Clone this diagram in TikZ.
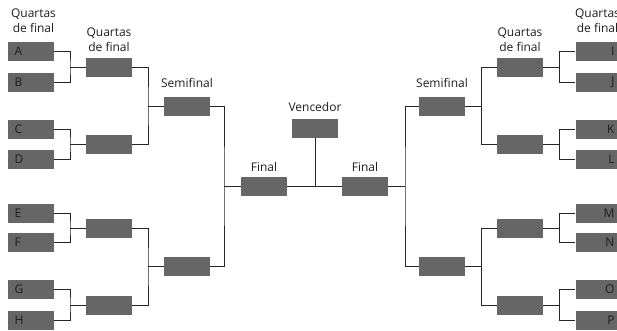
\documentclass[tikz,border=0pt]{standalone}
\usepackage{fontspec}
\setmainfont{Open Sans}
\usetikzlibrary{positioning}
\definecolor{caixa}{HTML}{666666}
\definecolor{traco}{HTML}{262626}
\definecolor{letra}{HTML}{1E1E1E}

\begin{document}
\begin{tikzpicture}[
    x=1pt,
    y=-1pt,
    jogo/.style={
        rectangle,
        fill=caixa,
        minimum width=46pt,
        minimum height=19pt,
        inner sep=0pt
    },
    timeesq/.style={
        jogo,
        inner xsep=7pt,
        text width=32pt,
        align=left,
        text=letra,
        font=\fontsize{12}{14}\selectfont
    },
    timedir/.style={
        timeesq,
        align=right
    },
    linha/.style={
        draw=traco,
        line width=0.9pt
    },
    rotulo/.style={
        inner sep=0pt,
        align=center,
        text=letra,
        font=\fontsize{12}{15}\selectfont
    }
]
\useasboundingbox (0,0) rectangle (617,330);

\node[timeesq] (a) at (30.5,51.5) {A};
\node[timeesq] (b) at (30.5,82.5) {B};
\node[timeesq] (c) at (30.5,129.5) {C};
\node[timeesq] (d) at (30.5,159.5) {D};
\node[timeesq] (e) at (30.5,213.5) {E};
\node[timeesq] (f) at (30.5,242.5) {F};
\node[timeesq] (g) at (30.5,289.5) {G};
\node[timeesq] (h) at (30.5,320.5) {H};

\node[timedir] (i) at (598.5,51.5) {I};
\node[timedir] (j) at (598.5,82.5) {J};
\node[timedir] (k) at (598.5,129.5) {K};
\node[timedir] (l) at (598.5,159.5) {L};
\node[timedir] (m) at (598.5,213.5) {M};
\node[timedir] (n) at (598.5,242.5) {N};
\node[timedir] (o) at (598.5,289.5) {O};
\node[timedir] (p) at (598.5,320.5) {P};

\node[jogo] (qe1) at (109,67) {};
\node[jogo] (qe2) at (109,144.5) {};
\node[jogo] (qe3) at (109,228) {};
\node[jogo] (qe4) at (109,305) {};
\node[jogo] (qd1) at (520,67) {};
\node[jogo] (qd2) at (520,144.5) {};
\node[jogo] (qd3) at (520,228) {};
\node[jogo] (qd4) at (520,305) {};

\node[jogo] (se1) at (187,106) {};
\node[jogo] (se2) at (187,266.5) {};
\node[jogo] (sd1) at (442,106) {};
\node[jogo] (sd2) at (442,266.5) {};

\node[jogo] (fe) at (264,186) {};
\node[jogo] (fd) at (365,186) {};
\node[jogo] (venc) at (315,128.5) {};

\coordinate (je1) at (70,67);
\coordinate (je2) at (70,144.5);
\coordinate (je3) at (70,228);
\coordinate (je4) at (70,305);
\coordinate (jd1) at (559,67);
\coordinate (jd2) at (559,144.5);
\coordinate (jd3) at (559,228);
\coordinate (jd4) at (559,305);
\coordinate (ke1) at (148,106);
\coordinate (ke2) at (148,266.5);
\coordinate (kd1) at (481,106);
\coordinate (kd2) at (481,266.5);
\coordinate (me) at (224,186);
\coordinate (md) at (405,186);
\coordinate (mv) at (315,186);

\draw[linha] (a.east) -| (je1) |- (b.east);
\draw[linha] (c.east) -| (je2) |- (d.east);
\draw[linha] (e.east) -| (je3) |- (f.east);
\draw[linha] (g.east) -| (je4) |- (h.east);
\draw[linha] (je1) -- (qe1);
\draw[linha] (je2) -- (qe2);
\draw[linha] (je3) -- (qe3);
\draw[linha] (je4) -- (qe4);

\draw[linha] (i.west) -| (jd1) |- (j.west);
\draw[linha] (k.west) -| (jd2) |- (l.west);
\draw[linha] (m.west) -| (jd3) |- (n.west);
\draw[linha] (o.west) -| (jd4) |- (p.west);
\draw[linha] (jd1) -- (qd1);
\draw[linha] (jd2) -- (qd2);
\draw[linha] (jd3) -- (qd3);
\draw[linha] (jd4) -- (qd4);

\draw[linha] (qe1.east) -| (ke1) |- (qe2.east);
\draw[linha] (qe3.east) -| (ke2) |- (qe4.east);
\draw[linha] (ke1) -- (se1);
\draw[linha] (ke2) -- (se2);
\draw[linha] (qd1.west) -| (kd1) |- (qd2.west);
\draw[linha] (qd3.west) -| (kd2) |- (qd4.west);
\draw[linha] (kd1) -- (sd1);
\draw[linha] (kd2) -- (sd2);

\draw[linha] (se1.east) -| (me) |- (se2.east);
\draw[linha] (sd1.west) -| (md) |- (sd2.west);
\draw[linha] (me) -- (fe);
\draw[linha] (md) -- (fd);
\draw[linha] (fe) -- (fd);
\draw[linha] (venc) -- (mv);

\node[rotulo, above=9pt of a, xshift=3pt] {Quartas\\de final};
\node[rotulo, above=9pt of i, xshift=-1pt] {Quartas\\de final};
\node[rotulo, above=5pt of qe1] {Quartas\\de final};
\node[rotulo, above=5pt of qd1] {Quartas\\de final};
\node[rotulo, above=8pt of se1] {Semifinal};
\node[rotulo, above=8pt of sd1] {Semifinal};
\node[rotulo, above=4pt of fe] {Final};
\node[rotulo, above=4pt of fd] {Final};
\node[rotulo, above=7pt of venc] {Vencedor};

\end{tikzpicture}
\end{document}
